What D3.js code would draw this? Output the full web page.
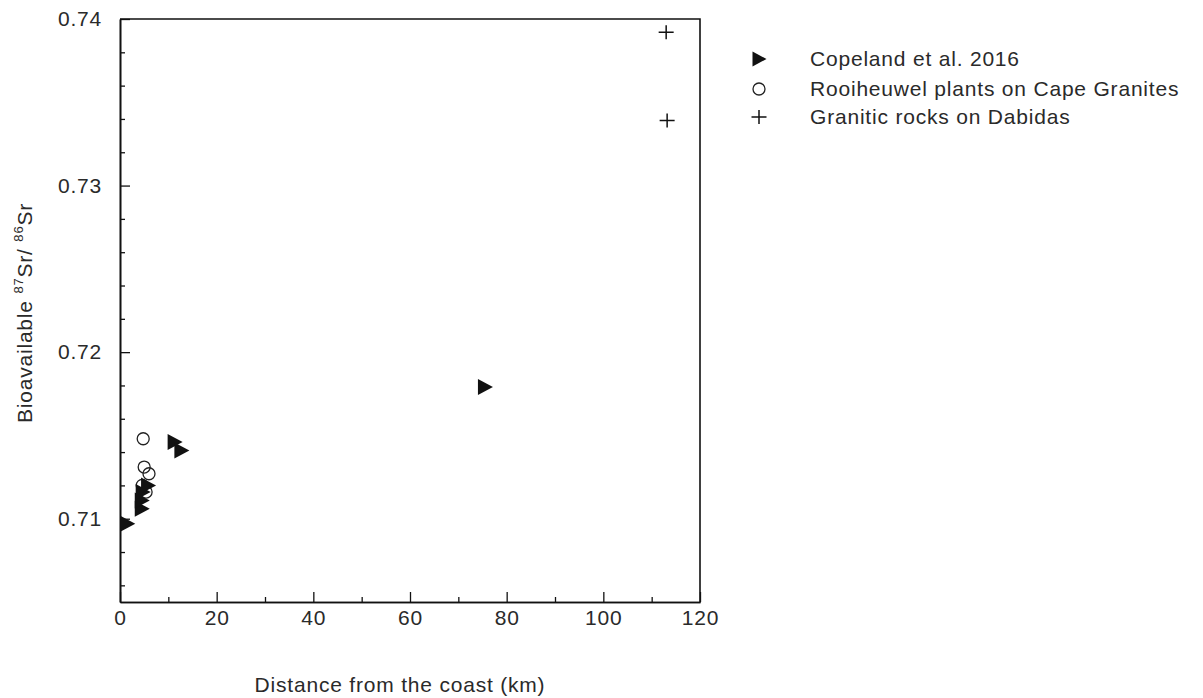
<!DOCTYPE html>
<html>
<head>
<meta charset="utf-8">
<script src="https://cdn.jsdelivr.net/npm/d3@7"></script>
<style>
  html, body { margin: 0; padding: 0; background: #fff; }
  svg { display: block; }
  text { font-family: "Liberation Sans", Arial, sans-serif; fill: #2a2a2a; letter-spacing: 0.8px; }
</style>
</head>
<body>
<svg id="chart" width="1203" height="698"></svg>
<script>
// Copeland et al. 2016 samples
const copelandDist = [1.5, 4.5, 4.5, 4.7, 5.8, 11.3, 12.7, 75.5];
const copelandSr   = [0.7097, 0.7106, 0.7111, 0.7116, 0.7120, 0.7146, 0.7141, 0.7179];

// Rooiheuwel plants on Cape Granites
const rooiDist = [4.8, 5.0, 6.0, 4.6, 5.4];
const rooiSr   = [0.7148, 0.7131, 0.7127, 0.7120, 0.7116];

// Granitic rocks on Dabidas
const dabidasDist = [113.0, 113.2];
const dabidasSr   = [0.7392, 0.7339];

const xMajorTicks = [0, 20, 40, 60, 80, 100, 120];
const xMinorTicks = [10, 30, 50, 70, 90, 110];
const yMajorTicks = [0.71, 0.72, 0.73, 0.74];
const yMinorTicks = [0.706, 0.708, 0.712, 0.714, 0.716, 0.718, 0.722, 0.724, 0.726, 0.728, 0.732, 0.734, 0.736, 0.738];

const legendLabels = ["Copeland et al. 2016", "Rooiheuwel plants on Cape Granites", "Granitic rocks on Dabidas"];

const svg = d3.select("#chart");
const plotLeft = 120, plotRight = 700, plotTop = 19, plotBottom = 602;

const x = d3.scaleLinear().domain([0, 120]).range([plotLeft, plotRight]);
const y = d3.scaleLinear().domain([0.705, 0.74]).range([plotBottom, plotTop]);

const fontSize = 21;
const fontFamily = "Liberation Sans, Arial, sans-serif";

// Frame (top and right edges)
svg.append("path")
  .attr("d", `M${plotLeft},${plotTop}H${plotRight}V${plotBottom}`)
  .attr("fill", "none").attr("stroke", "#111").attr("stroke-width", 1.6);

// X axis: inward ticks
const gx = svg.append("g").attr("transform", `translate(0,${plotBottom})`);
gx.call(d3.axisBottom(x).tickValues(xMajorTicks).tickSizeInner(-10).tickSizeOuter(0).tickPadding(8).tickFormat(d3.format("d")));
gx.append("g").call(d3.axisBottom(x).tickValues(xMinorTicks).tickSizeInner(-5).tickSizeOuter(0).tickFormat(""));
gx.selectAll(".domain").attr("stroke", "#111").attr("stroke-width", 1.6);
gx.selectAll("line").attr("stroke", "#111").attr("stroke-width", 1.3);
gx.selectAll("text").attr("font-size", fontSize).attr("fill", "#2a2a2a").attr("font-family", fontFamily);

// Y axis: inward ticks
const gy = svg.append("g").attr("transform", `translate(${plotLeft},0)`);
gy.call(d3.axisLeft(y).tickValues(yMajorTicks).tickSizeInner(-10).tickSizeOuter(0).tickPadding(18).tickFormat(d3.format(".2f")));
gy.append("g").call(d3.axisLeft(y).tickValues(yMinorTicks).tickSizeInner(-5).tickSizeOuter(0).tickFormat(""));
gy.selectAll(".domain").attr("stroke", "#111").attr("stroke-width", 1.6);
gy.selectAll("line").attr("stroke", "#111").attr("stroke-width", 1.3);
gy.selectAll("text").attr("font-size", fontSize).attr("fill", "#2a2a2a").attr("font-family", fontFamily);

// Axis titles
svg.append("text")
  .attr("x", 400).attr("y", 692)
  .attr("text-anchor", "middle").attr("font-size", fontSize)
  .text("Distance from the coast (km)");

const yTitle = svg.append("text")
  .attr("transform", `translate(32,313) rotate(-90)`)
  .attr("text-anchor", "middle").attr("font-size", fontSize);
yTitle.append("tspan").text("Bioavailable ");
yTitle.append("tspan").attr("font-size", 13).attr("dy", -9).text("87");
yTitle.append("tspan").attr("dy", 9).text("Sr/ ");
yTitle.append("tspan").attr("font-size", 13).attr("dy", -9).text("86");
yTitle.append("tspan").attr("dy", 9).text("Sr");

// Marker shapes
const triPath = "M-7,-8L8,0L-7,8Z";
const crossPath = "M-7.5,0H7.5M0,-7V7";

const plot = svg.append("g");

// Rooiheuwel open circles
plot.selectAll("circle.rooi").data(rooiDist)
  .join("circle").attr("class", "rooi")
  .attr("cx", d => x(d)).attr("cy", (d, i) => y(rooiSr[i]))
  .attr("r", 6).attr("fill", "none").attr("stroke", "#222").attr("stroke-width", 1.3);

// Copeland filled triangles
plot.selectAll("path.cope").data(copelandDist)
  .join("path").attr("class", "cope")
  .attr("d", triPath)
  .attr("transform", (d, i) => `translate(${x(d)},${y(copelandSr[i])})`)
  .attr("fill", "#111");

// Dabidas crosses
plot.selectAll("path.dab").data(dabidasDist)
  .join("path").attr("class", "dab")
  .attr("d", crossPath)
  .attr("transform", (d, i) => `translate(${x(d)},${y(dabidasSr[i])})`)
  .attr("fill", "none").attr("stroke", "#111").attr("stroke-width", 1.5);

// Legend
const legend = svg.append("g");
const rowY = [59, 89, 117];
const symX = 759, textX = 810;
legend.append("path").attr("d", "M-6.5,-7.5L7.5,0L-6.5,7.5Z").attr("transform", `translate(${symX},${rowY[0]})`).attr("fill", "#111");
legend.append("circle").attr("cx", symX).attr("cy", rowY[1]).attr("r", 6).attr("fill", "none").attr("stroke", "#222").attr("stroke-width", 1.3);
legend.append("path").attr("d", crossPath).attr("transform", `translate(${symX},${rowY[2]})`).attr("fill", "none").attr("stroke", "#111").attr("stroke-width", 1.5);
legend.selectAll("text.leg").data(legendLabels).join("text").attr("class", "leg")
  .attr("x", textX).attr("y", (d, i) => rowY[i])
  .attr("dy", "0.35em").attr("font-size", fontSize)
  .text(d => d);
</script>
</body>
</html>
